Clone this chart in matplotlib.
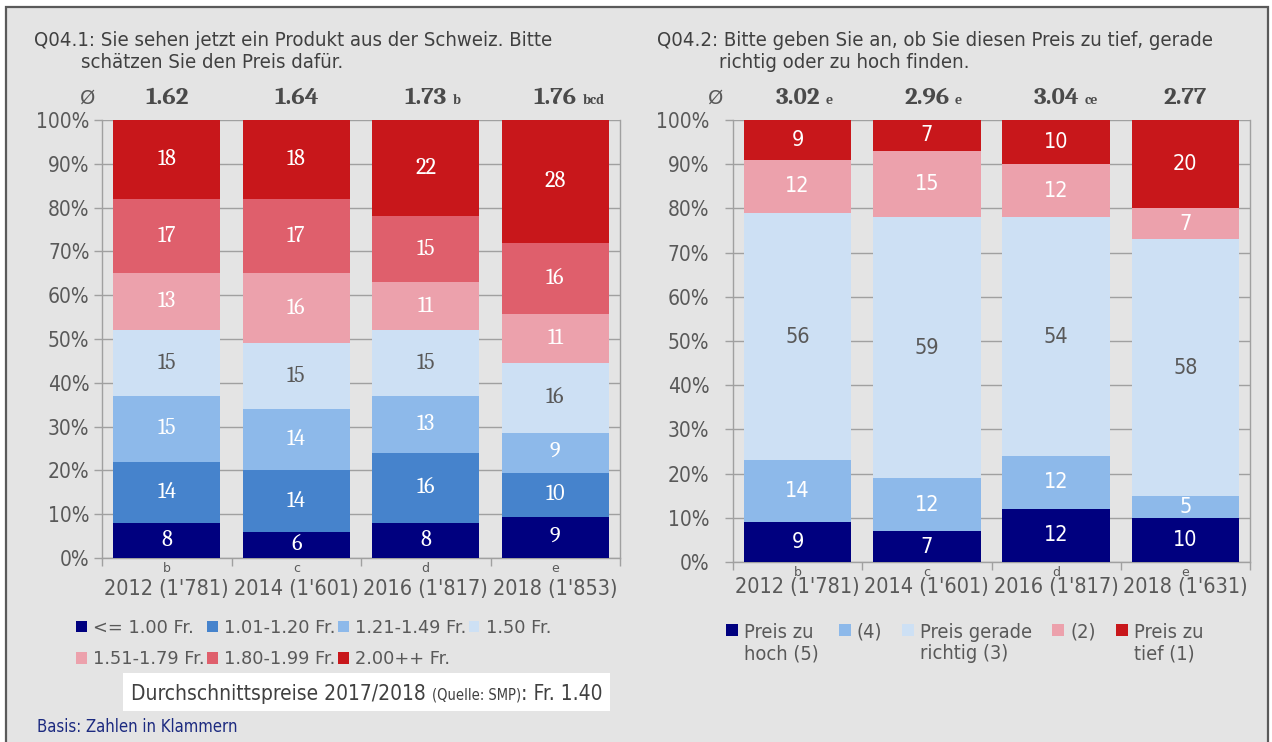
import matplotlib
matplotlib.use('Agg')
import matplotlib.pyplot as plt
import numpy as np
from matplotlib.patches import Rectangle, Patch
from matplotlib.legend_handler import HandlerPatch
from matplotlib import font_manager as fm
import matplotlib.transforms as mtransforms

# ---------------- data ----------------
years_left = ["2012 (1'781)", "2014 (1'601)", "2016 (1'817)", "2018 (1'853)"]
letters_left = ['b', 'c', 'd', 'e']
price_cats = ['<= 1.00 Fr.', '1.01-1.20 Fr.', '1.21-1.49 Fr.', '1.50 Fr.',
              '1.51-1.79 Fr.', '1.80-1.99 Fr.', '2.00++ Fr.']
p_le_100 = [8, 6, 8, 9.3]
p_101_120 = [14, 14, 16, 10.2]
p_121_149 = [15, 14, 13, 9.1]
p_150 = [15, 15, 15, 15.9]
p_151_179 = [13, 16, 11, 11.2]
p_180_199 = [17, 17, 15, 16.3]
p_200_plus = [18, 18, 22, 28.0]
avg_left = ['1.62', '1.64', '1.73', '1.76']
sig_left = ['', '', 'b', 'bcd']

years_right = ["2012 (1'781)", "2014 (1'601)", "2016 (1'817)", "2018 (1'631)"]
letters_right = ['b', 'c', 'd', 'e']
judge_cats = ['Preis zu\nhoch (5)', '(4)', 'Preis gerade\nrichtig (3)', '(2)', 'Preis zu\ntief (1)']
j_hoch5 = [9, 7, 12, 10]
j_4 = [14, 12, 12, 5]
j_richtig3 = [56, 59, 54, 58]
j_2 = [12, 15, 12, 7]
j_tief1 = [9, 7, 10, 20]
avg_right = ['3.02', '2.96', '3.04', '2.77']
sig_right = ['e', 'e', 'ce', '']

yticks = list(range(0, 101, 10))

# ---------------- styling ----------------
names = {f.name for f in fm.fontManager.ttflist}
SANS = 'DejaVu Sans'
SERIF = 'Caladea' if 'Caladea' in names else 'DejaVu Serif'
COND = dict(family='DejaVu Sans', fontstretch='condensed')

BG = '#e4e4e4'
TXT = '#404040'
TICK = '#595959'
AXC = '#a0a0a0'

NAVY = '#00007f'
BLUE = '#4683cc'
LBLUE = '#8db9ea'
VLBLUE = '#cde0f4'
PINK = '#eca1ac'
ROSE = '#df5f6c'
RED = '#c8171b'

W, H = 1272, 742
fig = plt.figure(figsize=(W / 100, H / 100), dpi=100, facecolor='white')


def fx(px):
    return px / W


def fy(py):
    return 1 - py / H


# background panel with border
fig.patches.append(Rectangle((fx(6), fy(745)), fx(1268 - 6), fy(7) - fy(745),
                             transform=fig.transFigure, facecolor=BG, edgecolor='#5a5a5a',
                             lw=1.6, zorder=-1))


def setup_axes(ax, years, letters, pad_label, letter_off, ypad):
    ax.set_facecolor(BG)
    ax.set_xlim(-0.5, 3.5)
    ax.set_ylim(0, 100)
    ax.set_yticks(yticks)
    ax.set_yticklabels([f'{v}%' for v in yticks], fontsize=15, color=TICK, **COND)
    ax.tick_params(axis='y', length=6, color=AXC, width=1, pad=ypad)
    ax.set_xticks(range(4))
    ax.set_xticklabels(years, fontsize=15.5, color=TICK, **COND)
    ax.tick_params(axis='x', which='major', length=0, pad=pad_label)
    ax.set_xticks([-0.5, 0.5, 1.5, 2.5, 3.5], minor=True)
    ax.tick_params(axis='x', which='minor', length=6, color=AXC, width=1)
    ax.grid(axis='y', color=AXC, lw=1, zorder=0)
    ax.set_axisbelow(True)
    for s in ['left', 'right', 'bottom']:
        ax.spines[s].set_color(AXC)
        ax.spines[s].set_linewidth(1)
    ax.spines['top'].set_visible(False)
    trans = mtransforms.blended_transform_factory(ax.transData, ax.transAxes)
    for i, l in enumerate(letters):
        ax.text(i, letter_off, l, transform=trans, ha='center', va='center',
                fontsize=9, color=TICK, family=SANS)


def stacked(ax, series, colors, tcolors, fsize, **fontkw):
    x = np.arange(4)
    bottom = np.zeros(4)
    for vals, c, tc in zip(series, colors, tcolors):
        bars = ax.bar(x, vals, 0.83, bottom=bottom, color=c, zorder=3)
        ax.bar_label(bars, labels=[f'{v:.0f}' for v in vals], label_type='center',
                     color=tc, fontsize=fsize, **fontkw)
        bottom = bottom + np.array(vals)


def averages(ax, avgs, sigs, yoff):
    trans = mtransforms.blended_transform_factory(ax.transData, ax.transAxes)
    for i, (a, s) in enumerate(zip(avgs, sigs)):
        t = ax.text(i, yoff, a, transform=trans, ha='center', va='center',
                    fontsize=18, fontweight='bold', color='#4a4a4a', family=SERIF)
        if s:
            ax.annotate(s, xy=(1, 0.1), xycoords=t, xytext=(4, 0), textcoords='offset points',
                        ha='left', va='bottom', fontsize=10, fontweight='bold', color='#4a4a4a',
                        family=SERIF)


# ---------------- left chart ----------------
axL = fig.add_axes([fx(102), fy(558), fx(620 - 102), (558 - 120) / H])
setup_axes(axL, years_left, letters_left, pad_label=15, letter_off=-10 / 438, ypad=3)
seriesL = [p_le_100, p_101_120, p_121_149, p_150, p_151_179, p_180_199, p_200_plus]
colorsL = [NAVY, BLUE, LBLUE, VLBLUE, PINK, ROSE, RED]
tcolL = ['white', 'white', 'white', TICK, 'white', 'white', 'white']
stacked(axL, seriesL, colorsL, tcolL, 16, family=SERIF)
averages(axL, avg_left, sig_left, 1 + 22 / 438)

# ---------------- right chart ----------------
axR = fig.add_axes([fx(733), fy(562), fx(1250 - 733), (562 - 120) / H])
setup_axes(axR, years_right, letters_right, pad_label=11, letter_off=-11 / 442, ypad=11)
seriesR = [j_hoch5, j_4, j_richtig3, j_2, j_tief1]
colorsR = [NAVY, LBLUE, VLBLUE, PINK, RED]
tcolR = ['white', 'white', TICK, 'white', 'white']
stacked(axR, seriesR, colorsR, tcolR, 15.5, **COND)
averages(axR, avg_right, sig_right, 1 + 22 / 442)

# ---------------- titles ----------------
fig.text(fx(34), fy(40), 'Q04.1: Sie sehen jetzt ein Produkt aus der Schweiz. Bitte',
         fontsize=14.6, color=TXT, va='center', **COND)
fig.text(fx(81), fy(63), 'schätzen Sie den Preis dafür.',
         fontsize=14.6, color=TXT, va='center', **COND)
fig.text(fx(657), fy(40), 'Q04.2: Bitte geben Sie an, ob Sie diesen Preis zu tief, gerade',
         fontsize=14.6, color=TXT, va='center', **COND)
fig.text(fx(719), fy(63), 'richtig oder zu hoch finden.',
         fontsize=14.6, color=TXT, va='center', **COND)
fig.text(fx(88), fy(98), 'Ø', family=SANS, fontsize=14, color=TICK, ha='center', va='center')
fig.text(fx(716), fy(98), 'Ø', family=SANS, fontsize=14, color=TICK, ha='center', va='center')

# ---------------- legends ----------------
handlesL = [Patch(facecolor=c, edgecolor='none') for c in colorsL]
order = [0, 4, 1, 5, 2, 6, 3]   # row-wise layout in a column-filled legend
legL = fig.legend([handlesL[i] for i in order], [price_cats[i] for i in order],
                  loc='center left', bbox_to_anchor=(fx(76), fy(643.5)), ncol=4,
                  frameon=False, handlelength=0.6, handleheight=0.6,
                  handletextpad=0.35, columnspacing=0.15, labelspacing=0.75,
                  borderpad=0, borderaxespad=0,
                  prop={'family': SANS, 'size': 12.8}, labelcolor=TICK)


def top_square(legend, orig_handle, xdescent, ydescent, width, height, fontsize):
    return Rectangle((-xdescent, -ydescent + 0.68 * fontsize), width, height)


handlesR = [Patch(facecolor=c, edgecolor='none') for c in colorsR]
labelsR = [lab if '\n' in lab else lab + '\n ' for lab in judge_cats]
legR = fig.legend(handlesR, labelsR, loc='upper left',
                  bbox_to_anchor=(fx(726), fy(623)), ncol=5, frameon=False,
                  handlelength=0.6, handleheight=0.6, handletextpad=0.3,
                  columnspacing=1.0, borderpad=0, borderaxespad=0,
                  prop={'family': 'DejaVu Sans', 'stretch': 'condensed', 'size': 14.4},
                  labelcolor=TICK,
                  handler_map={Patch: HandlerPatch(patch_func=top_square)})
for t in legR.get_texts():
    t.set_linespacing(1.15)

# ---------------- note box ----------------
fig.patches.append(Rectangle((fx(123), fy(711)), fx(610 - 123), (711 - 673) / H,
                             transform=fig.transFigure, facecolor='white',
                             edgecolor='none', zorder=1))
t1 = fig.text(fx(131), fy(700), 'Durchschnittspreise 2017/2018 ',
              fontsize=15, color=TXT, va='baseline', zorder=2, **COND)
t2 = fig.text(0, 0, '(Quelle: SMP)', fontsize=10.5, color=TXT,
              va='baseline', zorder=2, **COND)
t3 = fig.text(0, 0, ': Fr. 1.40', fontsize=15, color=TXT,
              va='baseline', zorder=2, **COND)
fig.canvas.draw()
r = fig.canvas.get_renderer()
bb1 = t1.get_window_extent(r)
t2.set_position((bb1.x1 / W, fy(700)))
fig.canvas.draw()
bb2 = t2.get_window_extent(r)
t3.set_position((bb2.x1 / W, fy(700)))

fig.text(fx(37), fy(727), 'Basis: Zahlen in Klammern', fontsize=12,
         color='#1c2a80', va='center', **COND)

fig.savefig('out.png', dpi=100, facecolor='white')
